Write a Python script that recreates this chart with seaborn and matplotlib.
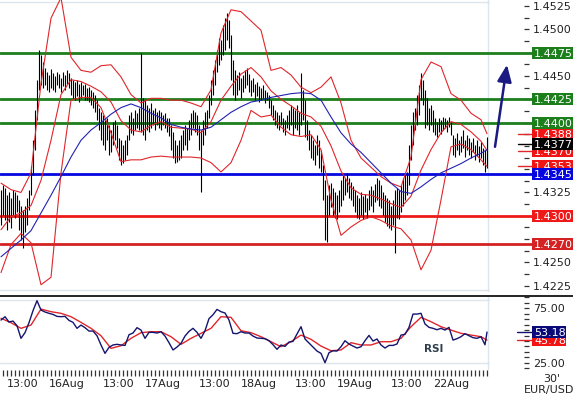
import numpy as np
import pandas as pd
import matplotlib
matplotlib.use("Agg")
import matplotlib.pyplot as plt
import matplotlib.transforms as mtransforms
from matplotlib.lines import Line2D
from matplotlib.ticker import MultipleLocator, FixedLocator, FuncFormatter
import seaborn as sns

# 30' EUR/USD bars, 15Aug 07:30 -> 22Aug 09:00 (one value per bar)
bar_high = [
    1.4328, 1.4333, 1.4330, 1.4322, 1.4325, 1.4319, 1.4328, 1.4325, 1.4322, 1.4317,
    1.4311, 1.4306, 1.4311, 1.4319, 1.4328, 1.4353, 1.4381, 1.4413, 1.4446, 1.4478,
    1.4473, 1.4465, 1.4459, 1.4454, 1.4451, 1.4457, 1.4453, 1.4450, 1.4454, 1.4452,
    1.4448, 1.4454, 1.4451, 1.4456, 1.4453, 1.4448, 1.4446, 1.4443, 1.4446, 1.4441,
    1.4443, 1.4440, 1.4441, 1.4437, 1.4438, 1.4435, 1.4433, 1.4430, 1.4424, 1.4416,
    1.4411, 1.4408, 1.4403, 1.4405, 1.4397, 1.4392, 1.4401, 1.4403, 1.4397, 1.4383,
    1.4381, 1.4376, 1.4381, 1.4387, 1.4408, 1.4411, 1.4405, 1.4413, 1.4410, 1.4416,
    1.4475, 1.4426, 1.4424, 1.4419, 1.4416, 1.4421, 1.4413, 1.4416, 1.4411, 1.4413,
    1.4411, 1.4408, 1.4410, 1.4405, 1.4405, 1.4397, 1.4390, 1.4381, 1.4376, 1.4381,
    1.4387, 1.4392, 1.4397, 1.4394, 1.4403, 1.4410, 1.4413, 1.4411, 1.4408, 1.4397,
    1.4392, 1.4403, 1.4411, 1.4413, 1.4430, 1.4446, 1.4456, 1.4467, 1.4478, 1.4491,
    1.4489, 1.4505, 1.4512, 1.4518, 1.4510, 1.4494, 1.4467, 1.4456, 1.4451, 1.4454,
    1.4448, 1.4451, 1.4456, 1.4459, 1.4452, 1.4446, 1.4448, 1.4441, 1.4443, 1.4439,
    1.4437, 1.4440, 1.4435, 1.4433, 1.4430, 1.4424, 1.4419, 1.4413, 1.4411, 1.4408,
    1.4411, 1.4405, 1.4403, 1.4408, 1.4413, 1.4419, 1.4416, 1.4413, 1.4419, 1.4411,
    1.4453, 1.4435, 1.4424, 1.4403, 1.4392, 1.4387, 1.4381, 1.4376, 1.4387, 1.4381,
    1.4371, 1.4355, 1.4338, 1.4322, 1.4333, 1.4335, 1.4330, 1.4326, 1.4322, 1.4328,
    1.4338, 1.4344, 1.4340, 1.4346, 1.4340, 1.4336, 1.4332, 1.4328, 1.4322, 1.4319,
    1.4326, 1.4321, 1.4323, 1.4319, 1.4328, 1.4332, 1.4328, 1.4334, 1.4340, 1.4338,
    1.4333, 1.4325, 1.4322, 1.4319, 1.4317, 1.4311, 1.4317, 1.4328, 1.4330, 1.4328,
    1.4333, 1.4340, 1.4344, 1.4347, 1.4376, 1.4397, 1.4411, 1.4416, 1.4430, 1.4440,
    1.4453, 1.4446, 1.4435, 1.4426, 1.4416, 1.4419, 1.4413, 1.4405, 1.4401, 1.4405,
    1.4403, 1.4406, 1.4405, 1.4403, 1.4406, 1.4401, 1.4387, 1.4383, 1.4389, 1.4381,
    1.4386, 1.4392, 1.4381, 1.4387, 1.4383, 1.4379, 1.4383, 1.4376, 1.4381, 1.4375,
    1.4379, 1.4373, 1.4371, 1.4385,
]
bar_low = [
    1.4290, 1.4301, 1.4295, 1.4285, 1.4293, 1.4287, 1.4301, 1.4298, 1.4304, 1.4285,
    1.4274, 1.4265, 1.4283, 1.4290, 1.4306, 1.4322, 1.4344, 1.4371, 1.4403, 1.4435,
    1.4440, 1.4437, 1.4440, 1.4435, 1.4433, 1.4437, 1.4435, 1.4433, 1.4440, 1.4437,
    1.4433, 1.4439, 1.4435, 1.4441, 1.4437, 1.4430, 1.4426, 1.4424, 1.4428, 1.4422,
    1.4426, 1.4430, 1.4424, 1.4424, 1.4422, 1.4419, 1.4416, 1.4411, 1.4403, 1.4392,
    1.4381, 1.4376, 1.4371, 1.4381, 1.4365, 1.4368, 1.4376, 1.4381, 1.4373, 1.4360,
    1.4355, 1.4357, 1.4360, 1.4365, 1.4381, 1.4389, 1.4387, 1.4392, 1.4394, 1.4392,
    1.4390, 1.4387, 1.4381, 1.4392, 1.4390, 1.4394, 1.4397, 1.4392, 1.4397, 1.4394,
    1.4392, 1.4397, 1.4394, 1.4390, 1.4386, 1.4371, 1.4362, 1.4357, 1.4358, 1.4360,
    1.4362, 1.4371, 1.4376, 1.4371, 1.4381, 1.4387, 1.4394, 1.4390, 1.4387, 1.4371,
    1.4326, 1.4376, 1.4387, 1.4394, 1.4405, 1.4419, 1.4430, 1.4440, 1.4454, 1.4462,
    1.4467, 1.4473, 1.4478, 1.4489, 1.4480, 1.4446, 1.4430, 1.4424, 1.4430, 1.4435,
    1.4426, 1.4433, 1.4437, 1.4440, 1.4433, 1.4428, 1.4433, 1.4424, 1.4428, 1.4422,
    1.4424, 1.4426, 1.4421, 1.4424, 1.4416, 1.4408, 1.4403, 1.4397, 1.4394, 1.4392,
    1.4397, 1.4390, 1.4387, 1.4394, 1.4392, 1.4397, 1.4387, 1.4394, 1.4392, 1.4387,
    1.4397, 1.4403, 1.4385, 1.4381, 1.4371, 1.4362, 1.4360, 1.4355, 1.4365, 1.4351,
    1.4347, 1.4317, 1.4274, 1.4272, 1.4301, 1.4309, 1.4301, 1.4298, 1.4296, 1.4304,
    1.4311, 1.4317, 1.4322, 1.4326, 1.4319, 1.4317, 1.4311, 1.4304, 1.4298, 1.4296,
    1.4301, 1.4296, 1.4304, 1.4298, 1.4306, 1.4311, 1.4304, 1.4315, 1.4317, 1.4311,
    1.4308, 1.4301, 1.4293, 1.4289, 1.4287, 1.4285, 1.4290, 1.4260, 1.4298, 1.4296,
    1.4304, 1.4311, 1.4317, 1.4322, 1.4333, 1.4360, 1.4376, 1.4392, 1.4397, 1.4408,
    1.4424, 1.4419, 1.4394, 1.4397, 1.4392, 1.4397, 1.4390, 1.4387, 1.4385, 1.4390,
    1.4388, 1.4392, 1.4394, 1.4390, 1.4395, 1.4387, 1.4365, 1.4363, 1.4371, 1.4365,
    1.4368, 1.4373, 1.4363, 1.4371, 1.4365, 1.4362, 1.4368, 1.4360, 1.4364, 1.4358,
    1.4362, 1.4355, 1.4347, 1.4351,
]
last_close = 1.4377

# bollinger bands and moving average, read every 5 bars
band_bars = list(range(0, 241, 5)) + [243]
bb_upper = [
    1.4335, 1.4328, 1.4325, 1.4346, 1.4442, 1.4512, 1.4534, 1.4470, 1.4456, 1.4454,
    1.4461, 1.4462, 1.4449, 1.4430, 1.4421, 1.4426, 1.4426, 1.4424, 1.4424, 1.4421,
    1.4417, 1.4435, 1.4496, 1.4521, 1.4519, 1.4509, 1.4499, 1.4456, 1.4459, 1.4451,
    1.4438, 1.4432, 1.4438, 1.4449, 1.4421, 1.4381, 1.4362, 1.4352, 1.4342, 1.4335,
    1.4331, 1.4363, 1.4446, 1.4465, 1.4460, 1.4431, 1.4424, 1.4410, 1.4403, 1.4388,
]
bb_middle = [
    1.4285, 1.4299, 1.4303, 1.4311, 1.4338, 1.4381, 1.4430, 1.4446, 1.4444, 1.4439,
    1.4433, 1.4422, 1.4402, 1.4392, 1.4390, 1.4397, 1.4401, 1.4395, 1.4394, 1.4393,
    1.4389, 1.4401, 1.4424, 1.4439, 1.4452, 1.4459, 1.4449, 1.4434, 1.4425, 1.4418,
    1.4410, 1.4406, 1.4396, 1.4375, 1.4348, 1.4330, 1.4323, 1.4322, 1.4318, 1.4313,
    1.4309, 1.4321, 1.4349, 1.4371, 1.4389, 1.4401, 1.4398, 1.4390, 1.4380, 1.4370,
]
bb_lower = [
    1.4239, 1.4269, 1.4281, 1.4271, 1.4226, 1.4234, 1.4346, 1.4424, 1.4427, 1.4427,
    1.4416, 1.4389, 1.4358, 1.4360, 1.4360, 1.4363, 1.4364, 1.4363, 1.4363, 1.4363,
    1.4362, 1.4357, 1.4347, 1.4357, 1.4381, 1.4413, 1.4406, 1.4408, 1.4395, 1.4387,
    1.4385, 1.4387, 1.4371, 1.4317, 1.4279, 1.4288, 1.4295, 1.4299, 1.4295, 1.4289,
    1.4286, 1.4274, 1.4242, 1.4263, 1.4317, 1.4374, 1.4377, 1.4371, 1.4360, 1.4353,
]
ma_blue = [
    1.4256, 1.4265, 1.4274, 1.4284, 1.4303, 1.4322, 1.4342, 1.4363, 1.4381, 1.4392,
    1.4400, 1.4409, 1.4416, 1.4420, 1.4416, 1.4410, 1.4405, 1.4398, 1.4395, 1.4393,
    1.4392, 1.4395, 1.4403, 1.4411, 1.4417, 1.4422, 1.4424, 1.4427, 1.4429, 1.4431,
    1.4432, 1.4431, 1.4424, 1.4406, 1.4389, 1.4377, 1.4368, 1.4357, 1.4346, 1.4335,
    1.4326, 1.4324, 1.4331, 1.4339, 1.4346, 1.4351, 1.4356, 1.4362, 1.4367, 1.4371,
]

# support / resistance levels
level_values = [1.4475, 1.4425, 1.4400, 1.4345, 1.4300, 1.4270]
level_colors = ["#1c7f1c", "#1c7f1c", "#1c7f1c", "#0606e0", "#ee1a1a", "#d42222"]

# RSI, read every 2 bars, and its average every 5 bars
rsi_bars = list(range(0, 243, 2)) + [243]
rsi_values = [
    64.2, 67.3, 62.4, 63.3, 59.0, 47.4, 52.6, 61.8, 72.8, 82.0,
    73.4, 71.6, 70.4, 69.4, 67.6, 67.3, 67.6, 63.9, 62.1, 56.6,
    59.6, 57.2, 54.1, 54.1, 49.8, 41.3, 33.6, 39.1, 41.3, 41.9,
    41.3, 40.9, 50.7, 52.3, 57.2, 55.0, 47.4, 52.9, 52.9, 52.3,
    53.5, 49.5, 43.4, 36.7, 39.4, 42.8, 49.5, 53.8, 56.6, 52.9,
    47.4, 54.4, 65.5, 69.1, 74.0, 71.9, 70.7, 64.2, 52.0, 51.7,
    53.5, 52.3, 52.3, 49.5, 47.7, 47.4, 47.1, 45.2, 41.6, 37.3,
    41.3, 40.0, 44.0, 44.6, 51.4, 58.1, 46.8, 43.1, 39.4, 35.7,
    33.6, 25.0, 34.2, 36.0, 35.7, 39.7, 45.2, 42.2, 40.3, 38.5,
    39.7, 45.2, 50.1, 44.9, 46.8, 41.3, 38.5, 40.9, 40.9, 42.2,
    50.4, 51.1, 57.5, 69.7, 69.7, 70.4, 60.6, 57.5, 56.6, 55.3,
    56.6, 55.0, 57.5, 45.8, 47.1, 48.9, 51.7, 49.8, 48.0, 47.4,
    48.9, 41.5, 53.18,
]
rsi_ma = [
    65.8, 61.8, 56.6, 59.6, 74.3, 71.9, 70.4, 67.3, 62.1, 56.6,
    49.8, 38.2, 40.6, 47.4, 52.6, 53.5, 53.5, 48.9, 41.9, 47.4,
    52.0, 56.6, 67.3, 66.7, 54.4, 52.6, 48.9, 44.3, 39.7, 44.3,
    50.4, 46.5, 40.3, 36.0, 36.7, 43.4, 41.3, 41.3, 44.3, 44.3,
    47.4, 58.1, 66.7, 62.7, 58.1, 55.0, 52.0, 50.4, 48.9, 45.78,
]

tick_bars = [11, 33, 59, 81, 107, 129, 155, 177, 203, 225]
tick_labels = ["13:00", "16Aug", "13:00", "17Aug", "13:00", "18Aug",
               "13:00", "19Aug", "13:00", "22Aug"]

arrow_from = (247, 1.4374)
arrow_to = (253, 1.4462)

sns.set_theme(style="white")
plt.rcParams["font.family"] = ["DejaVu Sans"]

W, H = 573, 399
AX_W = 490.0
fig = plt.figure(figsize=(W / 100, H / 100), dpi=100)


def px_box(x0, y0, x1, y1):
    return [x0 / W, 1 - y1 / H, (x1 - x0) / W, (y1 - y0) / H]


ax = fig.add_axes(px_box(0, 0, 490, 292))
ax_rsi = fig.add_axes(px_box(0, 297, 490, 370))

price_lim = (1.42182, 1.45315)
rsi_lim = (18.3, 85.4)
ppx = (price_lim[1] - price_lim[0]) / 292
rpx = (rsi_lim[1] - rsi_lim[0]) / 73

light = "#dde5ed"

# price panel
for v, c in zip(level_values, level_colors):
    ax.axhline(v, xmin=0, xmax=532 / AX_W, color=c, lw=2, zorder=2, clip_on=False)

bars = np.arange(len(bar_high))
ax.vlines(bars, bar_low, bar_high, color="black", lw=0.8, zorder=3)

bands = pd.DataFrame({"bar": band_bars, "upper": bb_upper, "middle": bb_middle,
                      "lower": bb_lower, "ma": ma_blue})
for col in ["upper", "middle", "lower"]:
    sns.lineplot(data=bands, x="bar", y=col, ax=ax, color="#e0262b", lw=0.8, zorder=4)
sns.lineplot(data=bands, x="bar", y="ma", ax=ax, color="#2222b4", lw=0.8, zorder=4)

# RSI panel
rsi_df = pd.DataFrame({"bar": rsi_bars, "rsi": rsi_values})
rsi_ma_df = pd.DataFrame({"bar": band_bars, "rsi": rsi_ma})
sns.lineplot(data=rsi_ma_df, x="bar", y="rsi", ax=ax_rsi, color="#e0262b", lw=1.0, zorder=4)
sns.lineplot(data=rsi_df, x="bar", y="rsi", ax=ax_rsi, color="#14146e", lw=1.0, zorder=5)
ax_rsi.axhline(25, color=light, lw=1, zorder=1)
ax_rsi.plot([0, 1], [0.96, 0.96], transform=ax_rsi.transAxes, color=light, lw=1, zorder=1)
ax_rsi.text(434 / AX_W, 0.29, "RSI", transform=ax_rsi.transAxes, ha="center", va="center",
            fontsize=7.5, fontweight="bold", color="#2f3e4e")

# frames and grid
ax.plot([0, 1], [0.993, 0.993], transform=ax.transAxes, color=light, lw=1, zorder=1)
ax.plot([0, 1], [0.007, 0.007], transform=ax.transAxes, color=light, lw=1, zorder=1)
for a in (ax, ax_rsi):
    a.axvline(243.5, color=light, lw=1, zorder=1)
fig.add_artist(Line2D([0, 1], [1 - 296 / H] * 2, color="black", lw=1.2,
                      transform=fig.transFigure))


def tag(a, y, text, fc, upp, z=6, x0=532, x1=573, tc="white"):
    trans = mtransforms.blended_transform_factory(a.transAxes, a.transData)
    h = 6 * upp
    a.add_patch(plt.Rectangle((x0 / AX_W, y - h), (x1 - x0) / AX_W, 2 * h, transform=trans,
                              fc=fc, ec="none", zorder=z, clip_on=False))
    a.text((x0 + 2) / AX_W, y - 4 * upp, text, transform=trans, ha="left", va="baseline",
           fontsize=8, color=tc, zorder=z + 0.1, clip_on=False)


def stub(a, y, color, x0=518, x1=532):
    trans = mtransforms.blended_transform_factory(a.transAxes, a.transData)
    a.plot([x0 / AX_W, x1 / AX_W], [y, y], transform=trans, color=color, lw=1,
           clip_on=False, zorder=5)


band_ends = [bb_upper[-1], bb_middle[-1], bb_lower[-1]]
for v in band_ends:
    stub(ax, v, "#e0262b")
    tag(ax, v, f"{v:.4f}", "#f01414", ppx, z=6)
stub(ax, last_close, "black")
tag(ax, last_close, f"{last_close:.4f}", "black", ppx, z=7)
for v, c in zip(level_values, level_colors):
    tag(ax, v, f"{v:.4f}", c, ppx, z=7)

stub(ax_rsi, rsi_ma[-1], "#e0262b", x0=517)
tag(ax_rsi, rsi_ma[-1], f"{rsi_ma[-1]:.2f}", "#f01414", rpx, z=6, x1=566)
stub(ax_rsi, rsi_values[-1], "#14146e", x0=517)
tag(ax_rsi, rsi_values[-1], f"{rsi_values[-1]:.2f}", "#0a0a78", rpx, z=7, x1=566)

# arrow
ax.annotate("", xy=arrow_to, xytext=arrow_from, annotation_clip=False,
            arrowprops=dict(arrowstyle="-|>,head_length=0.85,head_width=0.36",
                            mutation_scale=12, lw=1.8, color="#1a1a82",
                            shrinkA=0, shrinkB=0, clip_on=False))

# axes / ticks
for a in (ax, ax_rsi):
    for s in a.spines.values():
        s.set_visible(False)
    a.set_xlabel("")
    a.set_ylabel("")
    a.set_xlim(-0.5, 244.5)
    a.yaxis.tick_right()
    a.spines["right"].set_position(("axes", 529 / AX_W))
    a.tick_params(axis="y", which="both", direction="in", length=3.5, width=0.9,
                  color="#333333", pad=3, labelsize=8, labelcolor="#222222",
                  right=True, labelright=True, left=False, labelleft=False)

# price tick labels hidden where a coloured tag sits on top of them
tagged = level_values + band_ends + [last_close]


def price_fmt(v, pos):
    if any(abs(v - t) < 8 * ppx for t in tagged):
        return ""
    return f"{v:.4f}"


ax.set_ylim(*price_lim)
ax.yaxis.set_major_locator(MultipleLocator(0.0025))
ax.yaxis.set_minor_locator(MultipleLocator(0.00125))
ax.yaxis.set_major_formatter(FuncFormatter(price_fmt))
ax.tick_params(axis="x", which="both", bottom=False, labelbottom=False)

ax_rsi.set_ylim(*rsi_lim)
ax_rsi.yaxis.set_major_locator(FixedLocator([25, 75]))
ax_rsi.yaxis.set_minor_locator(MultipleLocator(5))
ax_rsi.yaxis.set_major_formatter(FuncFormatter(lambda v, pos: f"{v:.2f}"))
ax_rsi.xaxis.set_major_locator(FixedLocator(tick_bars))
ax_rsi.set_xticklabels(tick_labels)
ax_rsi.xaxis.set_minor_locator(FixedLocator(list(range(1, 244, 2))))
ax_rsi.tick_params(axis="x", which="both", direction="out", length=4, width=0.9,
                   color="#333333", bottom=True, labelbottom=True, pad=2.5,
                   labelsize=8, labelcolor="#222222")

fig.text(552 / W, 1 - 379 / H, "30'", ha="center", va="center", fontsize=8, color="#222222")
fig.text(549 / W, 1 - 390 / H, "EUR/USD", ha="center", va="center", fontsize=8, color="#222222")

fig.savefig("out.png", dpi=100)
